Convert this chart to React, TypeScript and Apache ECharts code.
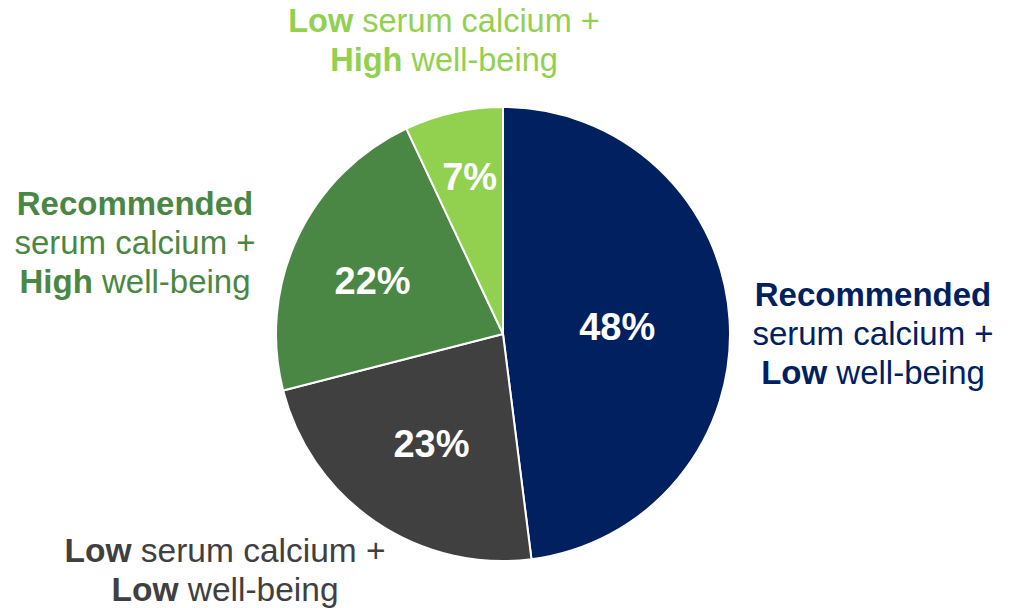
import React, { useEffect, useRef } from "react";
import * as echarts from "echarts";

const categories = [
  "Recommended serum calcium + Low well-being",
  "Low serum calcium + Low well-being",
  "Recommended serum calcium + High well-being",
  "Low serum calcium + High well-being",
];
const values = [48, 23, 22, 7];
const colors = ["#002060", "#404040", "#4A8744", "#92D050"];
const labelLines: string[][] = [
  ["{b|Recommended}", "serum calcium +", "{b|Low} well-being"],
  ["{b|Low} serum calcium +", "{b|Low} well-being"],
  ["{b|Recommended}", "serum calcium +", "{b|High} well-being"],
  ["{b|Low} serum calcium +", "{b|High} well-being"],
];
const labelPos = [
  [873, 333],
  [225, 570],
  [135, 242],
  [444, 40],
];
const labelFont = [33, 33.5, 33, 32.5];
const pctOffsets = [
  [-2, 0],
  [-6, 14],
  [-25, -3],
  [-8, -43],
];

const FONT = "'Liberation Sans', Arial, sans-serif";

export default function App() {
  const ref = useRef<HTMLDivElement>(null);
  useEffect(() => {
    if (!ref.current) return;
    const chart = echarts.init(ref.current, undefined, { renderer: "svg" });
    chart.setOption({
      animation: false,
      backgroundColor: "#ffffff",
      series: [
        {
          type: "pie",
          center: [503, 334],
          radius: 227,
          startAngle: 90,
          clockwise: true,
          data: categories.map((name, i) => ({
            name,
            value: values[i],
            itemStyle: { color: colors[i] },
          })),
          itemStyle: { borderColor: "#ffffff", borderWidth: 2 },
          label: {
            show: true,
            position: "inside",
            formatter: "{c}%",
            color: "#ffffff",
            fontSize: 38,
            fontWeight: "bold",
            fontFamily: FONT,
          },
          labelLine: { show: false },
          labelLayout: (p: any) => ({
            dx: pctOffsets[p.dataIndex][0],
            dy: pctOffsets[p.dataIndex][1],
          }),
          emphasis: { disabled: true },
        },
      ],
      graphic: labelLines.map((lines, i) => ({
        type: "text",
        x: labelPos[i][0],
        y: labelPos[i][1],
        style: {
          text: lines.join("\n"),
          fill: colors[i],
          fontSize: labelFont[i],
          fontFamily: FONT,
          lineHeight: 39,
          align: "center",
          verticalAlign: "middle",
          rich: {
            b: {
              fontWeight: "bold",
              fontSize: labelFont[i],
              fontFamily: FONT,
              lineHeight: 39,
              fill: colors[i],
            },
          },
        },
      })),
    });
    return () => chart.dispose();
  }, []);
  return (
    <div
      ref={ref}
      style={{ position: "absolute", left: 0, top: 0, width: 1012, height: 608 }}
    />
  );
}
